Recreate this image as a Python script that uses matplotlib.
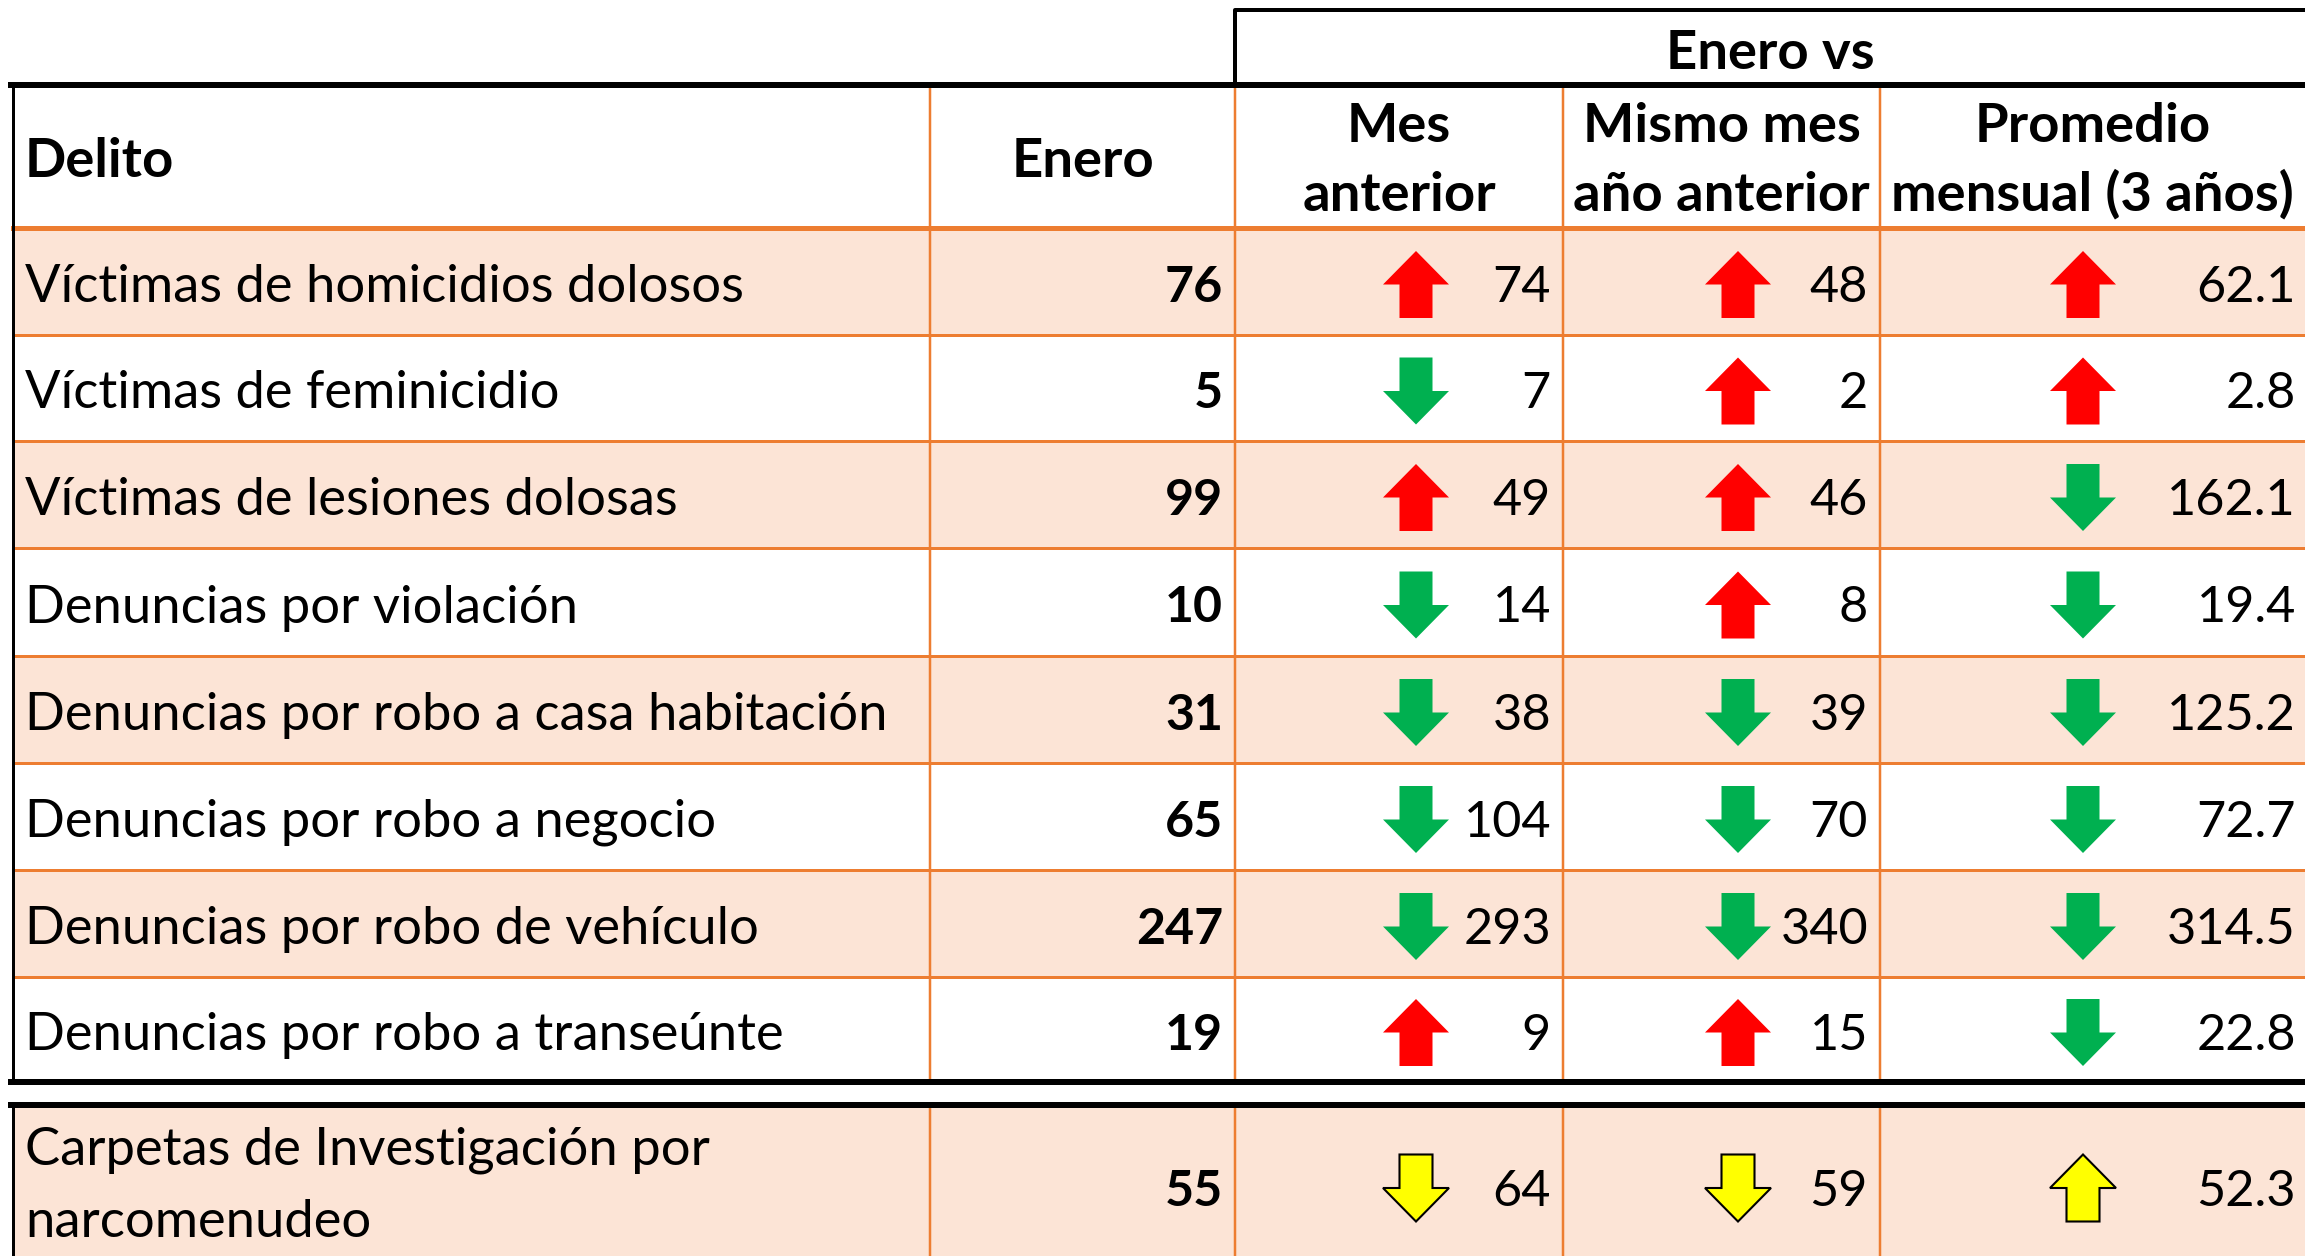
import os
import matplotlib
matplotlib.use('Agg')
import matplotlib.pyplot as plt
from matplotlib.patches import Polygon, Rectangle
from matplotlib import font_manager
from matplotlib.font_manager import FontProperties

# Data
delitos = ['Víctimas de homicidios dolosos', 'Víctimas de feminicidio',
           'Víctimas de lesiones dolosas', 'Denuncias por violación',
           'Denuncias por robo a casa habitación', 'Denuncias por robo a negocio',
           'Denuncias por robo de vehículo', 'Denuncias por robo a transeúnte']
enero = [76, 5, 99, 10, 31, 65, 247, 19]
mes_anterior = [74, 7, 49, 14, 38, 104, 293, 9]
mismo_mes = [48, 2, 46, 8, 39, 70, 340, 15]
promedio = ['62.1', '2.8', '162.1', '19.4', '125.2', '72.7', '314.5', '22.8']

narco_label = ['Carpetas de Investigación por', 'narcomenudeo']
narco_enero = 55
narco_comp = ['64', '59', '52.3']

headers = [['Mes', 'anterior'], ['Mismo mes', 'año anterior'], ['Promedio', 'mensual (3 años)']]


# pick Lato regular / bold files explicitly
def _w(f):
    w = f.weight
    return w if isinstance(w, (int, float)) else font_manager.weight_dict.get(w, 400)


lato = [f for f in font_manager.fontManager.ttflist if f.name == 'Lato' and f.style == 'normal']
if lato:
    reg = min(lato, key=lambda f: (abs(_w(f) - 400), 'Regular' not in os.path.basename(f.fname)))
    bld = min(lato, key=lambda f: (abs(_w(f) - 700), 'Bold' not in os.path.basename(f.fname)))
    fp_reg = FontProperties(fname=reg.fname)
    fp_bold = FontProperties(fname=bld.fname)
else:
    fp_reg = FontProperties(family='DejaVu Sans')
    fp_bold = FontProperties(family='DejaVu Sans', weight='bold')

W, H = 2305, 1256
fig = plt.figure(figsize=(W / 100, H / 100), dpi=100)
ax = fig.add_axes([0, 0, 1, 1])
ax.set_xlim(0, W)
ax.set_ylim(H, 0)
ax.axis('off')
renderer = fig.canvas.get_renderer()


def fit_size(s, fp, width):
    # font size that gives the measured text width in the reference
    t = ax.text(0, 0, s, fontproperties=fp, fontsize=40)
    w = t.get_window_extent(renderer).width
    t.remove()
    return 40 * width / w


fs_lab = fit_size('Denuncias por robo a casa habitación', fp_reg, 861)
fs_num = fit_size('314.5', fp_reg, 129)
fs_bnum = fit_size('247', fp_bold, 87)
fs_head = fit_size('mensual (3 años)', fp_bold, 402)

orange = '#ED7D31'
peach = '#FCE4D6'
px = 0.72  # px -> pt

xl = 13
cols = [930, 1235, 1563, 1880]
row_top = [228, 335, 441, 548, 656, 763, 870, 977]
row_bot = row_top[1:] + [1082]
narco_top, narco_bot = 1105, 1256

# fills
for i in range(len(delitos)):
    if i % 2 == 0:
        ax.add_patch(Rectangle((xl, row_top[i]), W - xl, row_bot[i] - row_top[i],
                               color=peach, lw=0, zorder=0))
ax.add_patch(Rectangle((xl, narco_top), W - xl, narco_bot - narco_top,
                       color=peach, lw=0, zorder=0))

# grid lines
for y in row_top[1:]:
    ax.plot([xl, W], [y, y], color=orange, lw=3 * px, zorder=1)
ax.plot([xl, W], [228, 228], color=orange, lw=5 * px, zorder=1)
for x in cols:
    ax.plot([x, x], [85, 1082], color=orange, lw=2.5 * px, zorder=1)
    ax.plot([x, x], [narco_top, narco_bot], color=orange, lw=2.5 * px, zorder=1)
ax.plot([xl, xl], [85, 1082], color='black', lw=3 * px, zorder=2)
ax.plot([xl, xl], [narco_top, narco_bot], color='black', lw=3 * px, zorder=2)
ax.plot([xl - 2, W], [85, 85], color='black', lw=6 * px, zorder=2)
ax.plot([xl - 2, W], [1082, 1082], color='black', lw=6 * px, zorder=2)
ax.plot([xl - 2, W], [narco_top, narco_top], color='black', lw=6 * px, zorder=2)
ax.plot([cols[1], cols[1], W], [85, 10, 10], color='black', lw=4 * px, zorder=2)

# headers (baseline positions)
hkw = dict(fontproperties=fp_bold, fontsize=fs_head, va='baseline')
ax.text((cols[1] + W) / 2, 69, 'Enero vs', ha='center', **hkw)
ax.text(25, 177, 'Delito', ha='left', **hkw)
ax.text((cols[0] + cols[1]) / 2, 177, 'Enero', ha='center', **hkw)
edges = cols[1:] + [W]
for j, (l1, l2) in enumerate(headers):
    xc = (edges[j] + edges[j + 1]) / 2
    ax.text(xc, 142, l1, ha='center', **hkw)
    ax.text(xc, 211, l2, ha='center', **hkw)


def arrow(xc, yc, up, fc, ec='none'):
    w, h = 66, 67
    sw = w / 2
    hh = h / 2
    if up:
        pts = [(xc, yc - h / 2), (xc + w / 2, yc - h / 2 + hh), (xc + sw / 2, yc - h / 2 + hh),
               (xc + sw / 2, yc + h / 2), (xc - sw / 2, yc + h / 2), (xc - sw / 2, yc - h / 2 + hh),
               (xc - w / 2, yc - h / 2 + hh)]
    else:
        pts = [(xc, yc + h / 2), (xc + w / 2, yc + h / 2 - hh), (xc + sw / 2, yc + h / 2 - hh),
               (xc + sw / 2, yc - h / 2), (xc - sw / 2, yc - h / 2), (xc - sw / 2, yc + h / 2 - hh),
               (xc - w / 2, yc + h / 2 - hh)]
    ax.add_patch(Polygon(pts, closed=True, fc=fc, ec=ec, lw=1.5 if ec != 'none' else 0, zorder=3))


arrow_x = [1416, 1738, 2083]
right_x = [1551, 1868, 2296]

for i, name in enumerate(delitos):
    yc = (row_top[i] + row_bot[i]) / 2
    yb = yc + 20.5
    ax.text(25, yb, name, ha='left', va='baseline', fontproperties=fp_reg, fontsize=fs_lab)
    ax.text(1223, yb, str(enero[i]), ha='right', va='baseline', fontproperties=fp_bold, fontsize=fs_bnum)
    comps = [str(mes_anterior[i]), str(mismo_mes[i]), promedio[i]]
    for j, c in enumerate(comps):
        up = enero[i] > float(c)
        arrow(arrow_x[j], yc + 3, up, '#FF0000' if up else '#00B050')
        ax.text(right_x[j], yb, c, ha='right', va='baseline', fontproperties=fp_reg, fontsize=fs_num)

# narcomenudeo row
yc = 1188
ax.text(25, 1164, narco_label[0], ha='left', va='baseline', fontproperties=fp_reg, fontsize=fs_lab)
ax.text(25, 1237, narco_label[1], ha='left', va='baseline', fontproperties=fp_reg, fontsize=fs_lab)
ax.text(1223, 1206, str(narco_enero), ha='right', va='baseline', fontproperties=fp_bold, fontsize=fs_bnum)
for j, c in enumerate(narco_comp):
    up = narco_enero > float(c)
    arrow(arrow_x[j], yc, up, '#FFFF00', ec='black')
    ax.text(right_x[j], 1206, c, ha='right', va='baseline', fontproperties=fp_reg, fontsize=fs_num)

fig.savefig('out.png', dpi=100)
